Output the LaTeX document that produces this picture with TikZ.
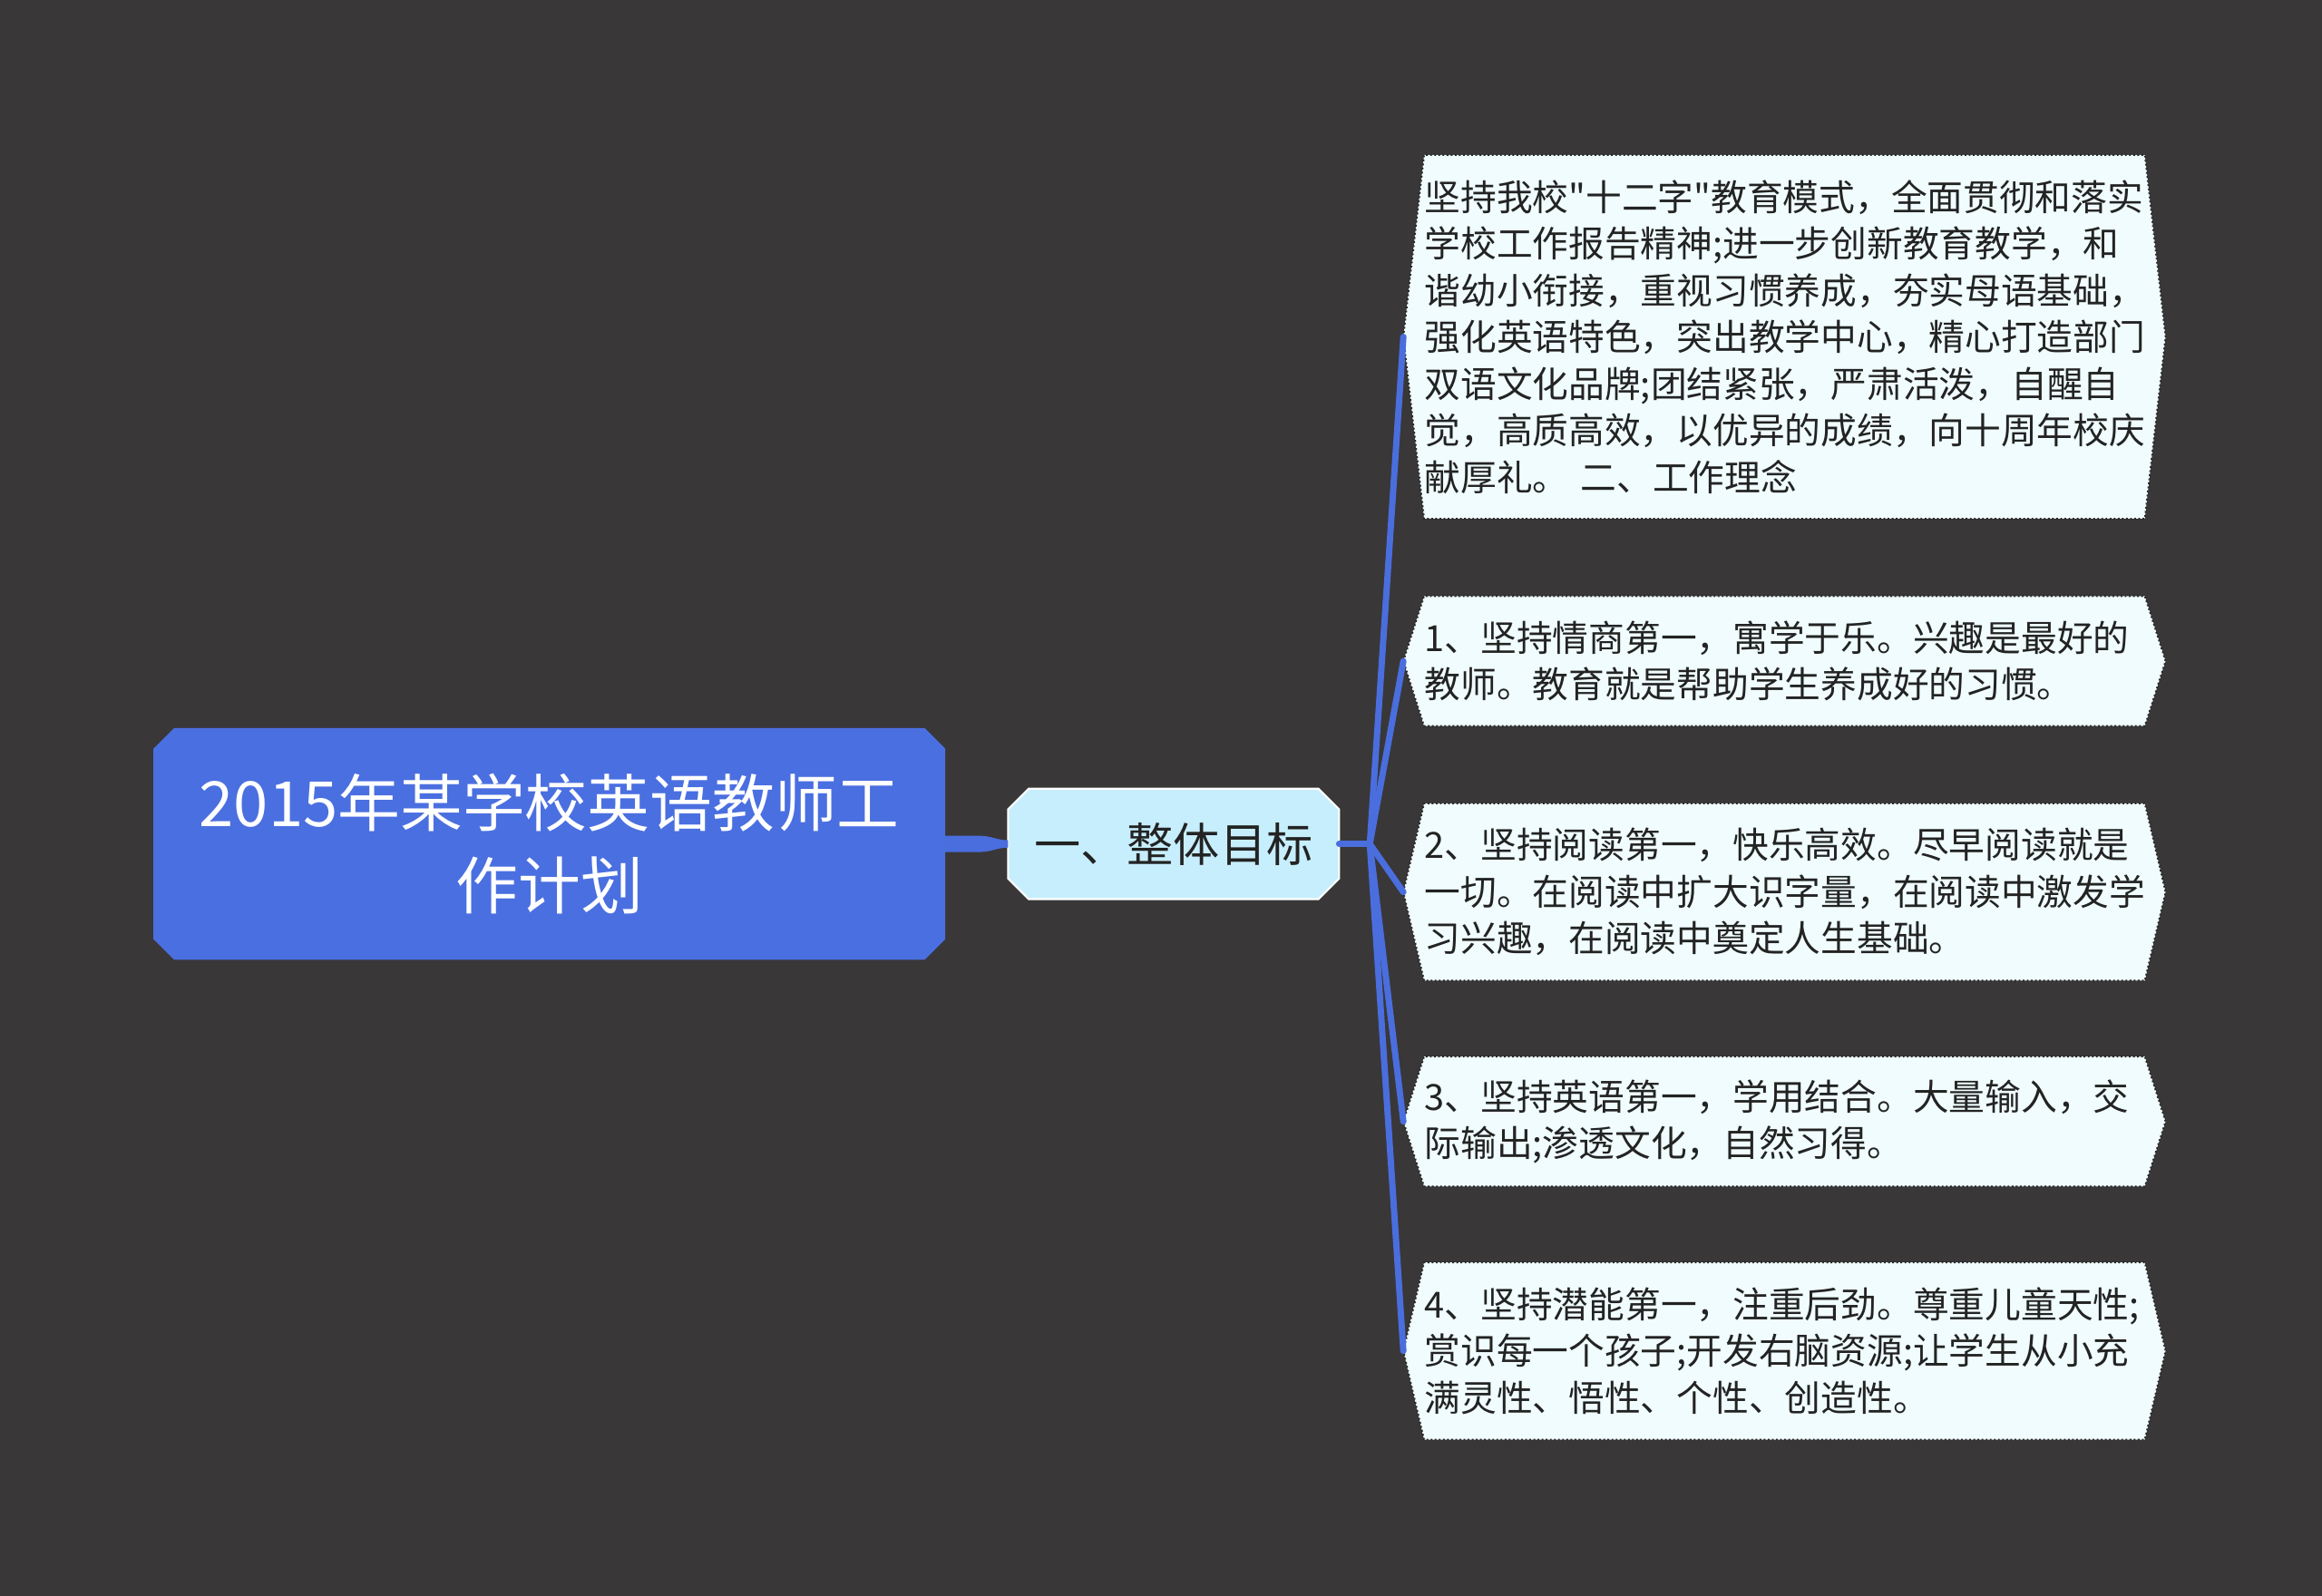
\documentclass[tikz,border=0pt]{standalone}
\usepackage{fontspec}
\newfontfamily\cjk{Noto Sans CJK SC}[Ligatures=TeXOff]
\usetikzlibrary{calc,backgrounds}
\definecolor{bg}{RGB}{57,55,56}
\definecolor{rootblue}{RGB}{74,111,224}
\definecolor{linkblue}{RGB}{74,110,222}
\definecolor{midfill}{RGB}{199,238,252}
\definecolor{leaffill}{RGB}{240,252,253}
\definecolor{darktext}{RGB}{35,35,35}
\definecolor{leafline}{RGB}{40,40,40}
\begin{document}
\begin{tikzpicture}[x=0.6123pt,y=-0.6123pt,
  rootnode/.style={inner sep=0pt,minimum width=327pt,minimum height=95.5pt,align=center,text=white,font=\cjk\fontsize{25.8}{34.3}\selectfont},
  midnode/.style={inner sep=0pt,minimum width=136.5pt,minimum height=45.3pt,text=darktext,font=\cjk\fontsize{19.2}{23}\selectfont},
  leafnode/.style={inner xsep=0pt,inner ysep=0pt,text width=297.6pt,align=left,text=darktext,font=\cjk\fontsize{14.9}{19.3}\selectfont},
  rootshape/.style={fill=rootblue},
  midshape/.style={fill=midfill,draw=white,line width=0.8pt},
  leafshape/.style={fill=leaffill,draw=leafline,densely dotted,line width=0.7pt},
  conn/.style={draw=linkblue,line width=2.6pt,line cap=round},
]
\useasboundingbox (0,0) rectangle (1568,1078);
\begin{scope}[on background layer]
  \fill[bg] (0,0) rectangle (1568,1078);
\end{scope}

% nodes
\node[rootnode] (r) at (371,570) {2015年某学校英语教师工\\作计划};
\node[midnode] (m) at (792.5,570) {一、整体目标};

\node[leafnode,minimum height=150pt] (l0) at (1205,227.5) {坚持我校"十二字"教育模式，全面贯彻和落实\\
学校工作报告精神;进一步创新教育教学，和\\
谐幼小衔接，重视习惯养成，夯实母语基础，\\
强化英语特色，突出教学中心，精心打造部门\\
双语文化品牌;团结紧张，严肃活泼，自醒自\\
觉，高质高效，以优异的成绩，向十周年校庆\\
献厚礼。 二、工作理念};
\node[leafnode,minimum height=53.3pt] (l1) at (1205,446.5) {1、坚持情商第一，寓学于乐。兴趣是最好的\\
教师。教育就是帮助学生养成好的习惯。};
\node[leafnode,minimum height=72.9pt] (l2) at (1205,602.5) {2、坚持阅读第一，快乐高效。尽早阅读就是\\
一切。在阅读中扩大识字量，在阅读中激发学\\
习兴趣，在阅读中奠定人生基础。};
\node[leafnode,minimum height=53.3pt] (l3) at (1205,757.5) {3、坚持英语第一，学用结合。大量输入，交\\
际输出;渗透文化，自然习得。};
\node[leafnode,minimum height=72.9pt] (l4) at (1205,912.5) {4、坚持潜能第一，注重后劲。尊重儿童天性;\\
赏识每一个孩子;开发右脑资源;让学生从小充\\
满灵性、悟性、个性、创造性。};

% shapes behind the nodes
\begin{scope}[on background layer]
  \path[rootshape] ($(r.north west)+(14,0)$) -- ($(r.north east)+(-14,0)$) -- ($(r.north east)+(0,14)$)
    -- ($(r.south east)+(0,-14)$) -- ($(r.south east)+(-14,0)$) -- ($(r.south west)+(14,0)$)
    -- ($(r.south west)+(0,-14)$) -- ($(r.north west)+(0,14)$) -- cycle;
  \path[midshape] ($(m.north west)+(14,0)$) -- ($(m.north east)+(-14,0)$) -- ($(m.north east)+(0,14)$)
    -- ($(m.south east)+(0,-14)$) -- ($(m.south east)+(-14,0)$) -- ($(m.south west)+(14,0)$)
    -- ($(m.south west)+(0,-14)$) -- ($(m.north west)+(0,14)$) -- cycle;
  \foreach \n in {l0,l1,l2,l3,l4}{
    \path[leafshape] ($(\n.west)+(-14,0)$) -- (\n.north west) -- (\n.north east)
      -- ($(\n.east)+(14,0)$) -- (\n.south east) -- (\n.south west) -- cycle;
  }
\end{scope}

% connectors
\coordinate (j) at (925,570);
\foreach \n in {l0,l1,l2,l3,l4}{
  \coordinate (t\n) at ($(\n.west)+(-14,0)$);
}
\fill[linkblue] ($(r.east)+(0,-5.5)$) -- ++(22,0) .. controls +(10,0) and +(-8,0) .. ($(m.west)+(0,-2.5)$)
  -- ($(m.west)+(0,2.5)$) .. controls +(-8,0) and +(10,0) .. ($(r.east)+(22,5.5)$) -- ($(r.east)+(0,5.5)$) -- cycle;
\draw[conn] (m.east) -- (j);
\foreach \n in {l0,l1,l2,l3,l4}{
  \draw[conn] (j) -- (t\n);
}
\end{tikzpicture}
\end{document}
